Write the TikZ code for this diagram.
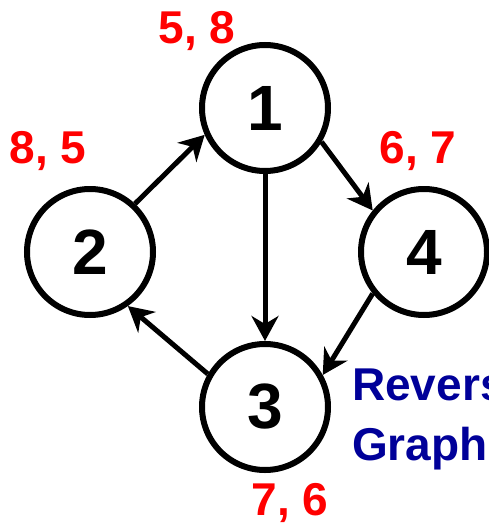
\documentclass[tikz,border=0pt]{standalone}
\usepackage{fontspec}
\setmainfont{Liberation Sans}
\usetikzlibrary{arrows.meta}
\definecolor{labred}{RGB}{255,0,0}
\definecolor{darkblue}{RGB}{0,0,153}
\begin{document}
\begin{tikzpicture}[x=1pt, y=-1pt,
    vertex/.style={draw, circle, line width=6pt, minimum size=126pt, inner sep=0pt,
      font=\fontsize{64}{64}\selectfont\bfseries},
    lbl/.style={text=labred, font=\fontsize{46}{46}\selectfont\bfseries},
    conn/.style={line width=5pt, -{Stealth[length=25pt, width=27pt, inset=8pt]}}]
    \useasboundingbox (0,0) rectangle (489,527);
    \node[vertex] (n1) at (265,108) {1};
    \node[vertex] (n2) at (90,252) {2};
    \node[vertex] (n4) at (424,252) {4};
    \node[vertex] (n3) at (265,407) {3};
    \node[lbl] (l1) at (197,31) {5, 8};
    \node[lbl] (l2) at (48,151) {8, 5};
    \node[lbl] (l4) at (418,151) {6, 7};
    \node[lbl] (l3) at (290,503) {7, 6};
    \draw[conn] (n2.47) -- (n1.204);
    \draw[conn] (n1.-31) -- (n4.141);
    \draw[conn] (n1.south) -- (n3.north);
    \draw[conn] (n4.219) -- (n3.29);
    \draw[conn] (n3.150) -- (n2.-55);
    \begin{scope}
      \clip (0,0) rectangle (489,527);
      \node[anchor=base west, align=left, text=darkblue, inner sep=0pt,
        font=\fontsize{46}{60}\selectfont\bfseries] (title) at (352,460)
        {Reverse\\Graph};
    \end{scope}
\end{tikzpicture}
\end{document}
